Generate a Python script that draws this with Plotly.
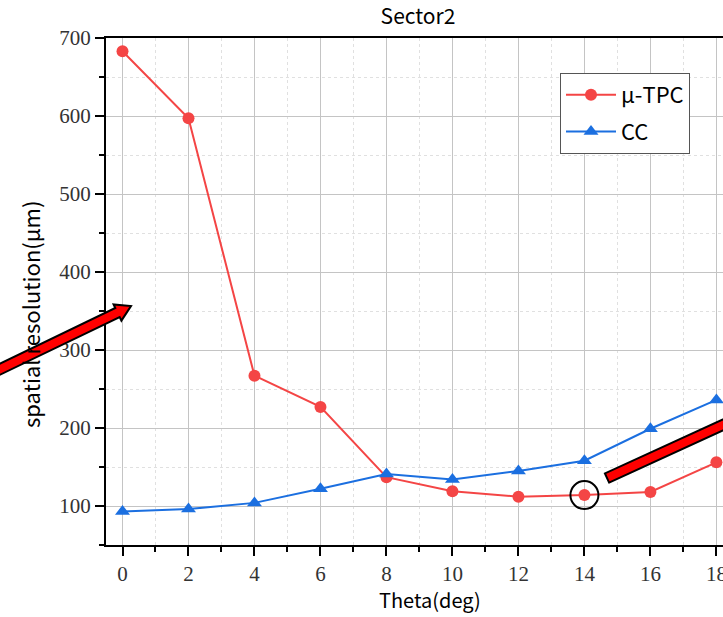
import math
import plotly.graph_objects as go

# ---- data ----
theta = [0, 2, 4, 6, 8, 10, 12, 14, 16, 18]
mu_tpc = [683, 597, 267, 227, 137, 119, 112, 114, 118, 156]
cc = [93, 96, 104, 122, 141, 134, 145, 158, 199, 236]
series_names = ["μ-TPC", "CC"]
x_ticks = [0, 2, 4, 6, 8, 10, 12, 14, 16, 18]
y_ticks = [100, 200, 300, 400, 500, 600, 700]

RED = "#f44545"
BLUE = "#1b6fe0"
SANS = "Noto Sans CJK SC, Noto Sans, sans-serif"
SERIF = "Liberation Serif, Times New Roman, serif"

W, H = 723, 617
# plot area in window pixels
PX0, PX1, PY0, PY1 = 106, 723, 38, 545
L, R, T, B = PX0, W - PX1, PY0, H - PY1
PW, PH = PX1 - PX0, PY1 - PY0


def px(x, y):
    return (x - PX0) / PW, (PY1 - y) / PH


def poly(points):
    pts = [px(x, y) for x, y in points]
    return "M " + " L ".join(f"{a:.5f},{b:.5f}" for a, b in pts) + " Z"


def arrow_points(tail, tip, hw, hh, hl, head=True):
    dx, dy = tip[0] - tail[0], tip[1] - tail[1]
    d = math.hypot(dx, dy)
    ux, uy = dx / d, dy / d
    nx, ny = -uy, ux
    if not head:
        return [(tail[0] + hw * nx, tail[1] + hw * ny), (tip[0] + hw * nx, tip[1] + hw * ny),
                (tip[0] - hw * nx, tip[1] - hw * ny), (tail[0] - hw * nx, tail[1] - hw * ny)]
    bx, by = tip[0] - hl * ux, tip[1] - hl * uy
    return [(tail[0] + hw * nx, tail[1] + hw * ny), (bx + hw * nx, by + hw * ny),
            (bx + hh * nx, by + hh * ny), tip, (bx - hh * nx, by - hh * ny),
            (bx - hw * nx, by - hw * ny), (tail[0] - hw * nx, tail[1] - hw * ny)]


fig = go.Figure()
fig.add_trace(go.Scatter(x=theta, y=mu_tpc, name=series_names[0], mode="lines+markers",
                         line=dict(color=RED, width=2),
                         marker=dict(symbol="circle", size=12, color=RED),
                         legendgroup="a"))
fig.add_trace(go.Scatter(x=theta, y=cc, name=series_names[1], mode="lines+markers",
                         line=dict(color=BLUE, width=2),
                         marker=dict(symbol="triangle-up", size=13, color=BLUE),
                         legendgroup="b"))

axis_common = dict(showline=True, linecolor="black", linewidth=2,
                   ticks="outside", ticklen=9, tickwidth=1.5, tickcolor="black",
                   showgrid=True, gridcolor="#c4c4c4", gridwidth=1, zeroline=False,
                   ticklabeloverflow="allow", automargin=False,
                   tickfont=dict(family=SERIF, size=21, color="#333"))

fig.update_xaxes(range=[-0.5, 18.2], tickvals=x_ticks, mirror=True,
                 minor=dict(dtick=1, tick0=0, ticks="outside", ticklen=5, tickcolor="black",
                            showgrid=True, gridcolor="#e0e0e0", griddash="3px,3px", gridwidth=1),
                 **axis_common)
fig.update_yaxes(range=[50, 700], tickvals=y_ticks,
                 minor=dict(dtick=50, tick0=0, ticks="outside", ticklen=5, tickcolor="black",
                            showgrid=True, gridcolor="#e0e0e0", griddash="3px,3px", gridwidth=1),
                 **axis_common)

shapes = []
# circle around the point at 14 deg
shapes.append(dict(type="circle", xref="x", yref="y", xsizemode="pixel", ysizemode="pixel",
                   xanchor=theta[7], yanchor=mu_tpc[7], x0=-14, x1=14, y0=-14, y1=14,
                   line=dict(color="black", width=2)))
# left arrow
shapes.append(dict(type="path", xref="paper", yref="paper",
                   path=poly(arrow_points((-12, 375), (131, 306), 5, 9, 15)),
                   fillcolor="#ff0000", line=dict(color="black", width=2), layer="above"))
# right band
shapes.append(dict(type="path", xref="paper", yref="paper",
                   path=poly(arrow_points((607, 478), (760, 408), 5, 0, 0, head=False)),
                   fillcolor="#ff0000", line=dict(color="black", width=2), layer="above"))

xt, yt = px(430, 599)
ytx, yty = px(30, 315)
annotations = [
    dict(text="Theta(deg)", x=xt, y=yt, xref="paper", yref="paper",
         showarrow=False, xanchor="center", yanchor="middle",
         font=dict(family=SANS, size=20, color="black")),
    dict(text="spatial resolution(μm)", x=ytx, y=yty,
         xref="paper", yref="paper", textangle=-90,
         showarrow=False, xanchor="center", yanchor="middle",
         font=dict(family=SANS, size=22, color="black")),
]

lx, ly = px(560, 73)
fig.update_layout(
    width=W, height=H,
    margin=dict(l=L, r=R, t=T, b=B, autoexpand=False),
    paper_bgcolor="white", plot_bgcolor="white",
    title=dict(text="Sector2", x=418 / W, xanchor="center", xref="container",
               y=1 - 17 / H, yanchor="middle", yref="container",
               font=dict(family=SANS, size=21, color="black")),
    legend=dict(x=lx, y=ly, xanchor="left", yanchor="top",
                bgcolor="white", bordercolor="#555", borderwidth=1,
                font=dict(family=SANS, size=22, color="black"),
                itemwidth=50, tracegroupgap=5, traceorder="grouped"),
    shapes=shapes,
    annotations=annotations,
    showlegend=True,
)

fig.write_html("out.html", config={"displayModeBar": False},
               post_script="document.body.style.margin='0';document.body.style.overflow='hidden';")
